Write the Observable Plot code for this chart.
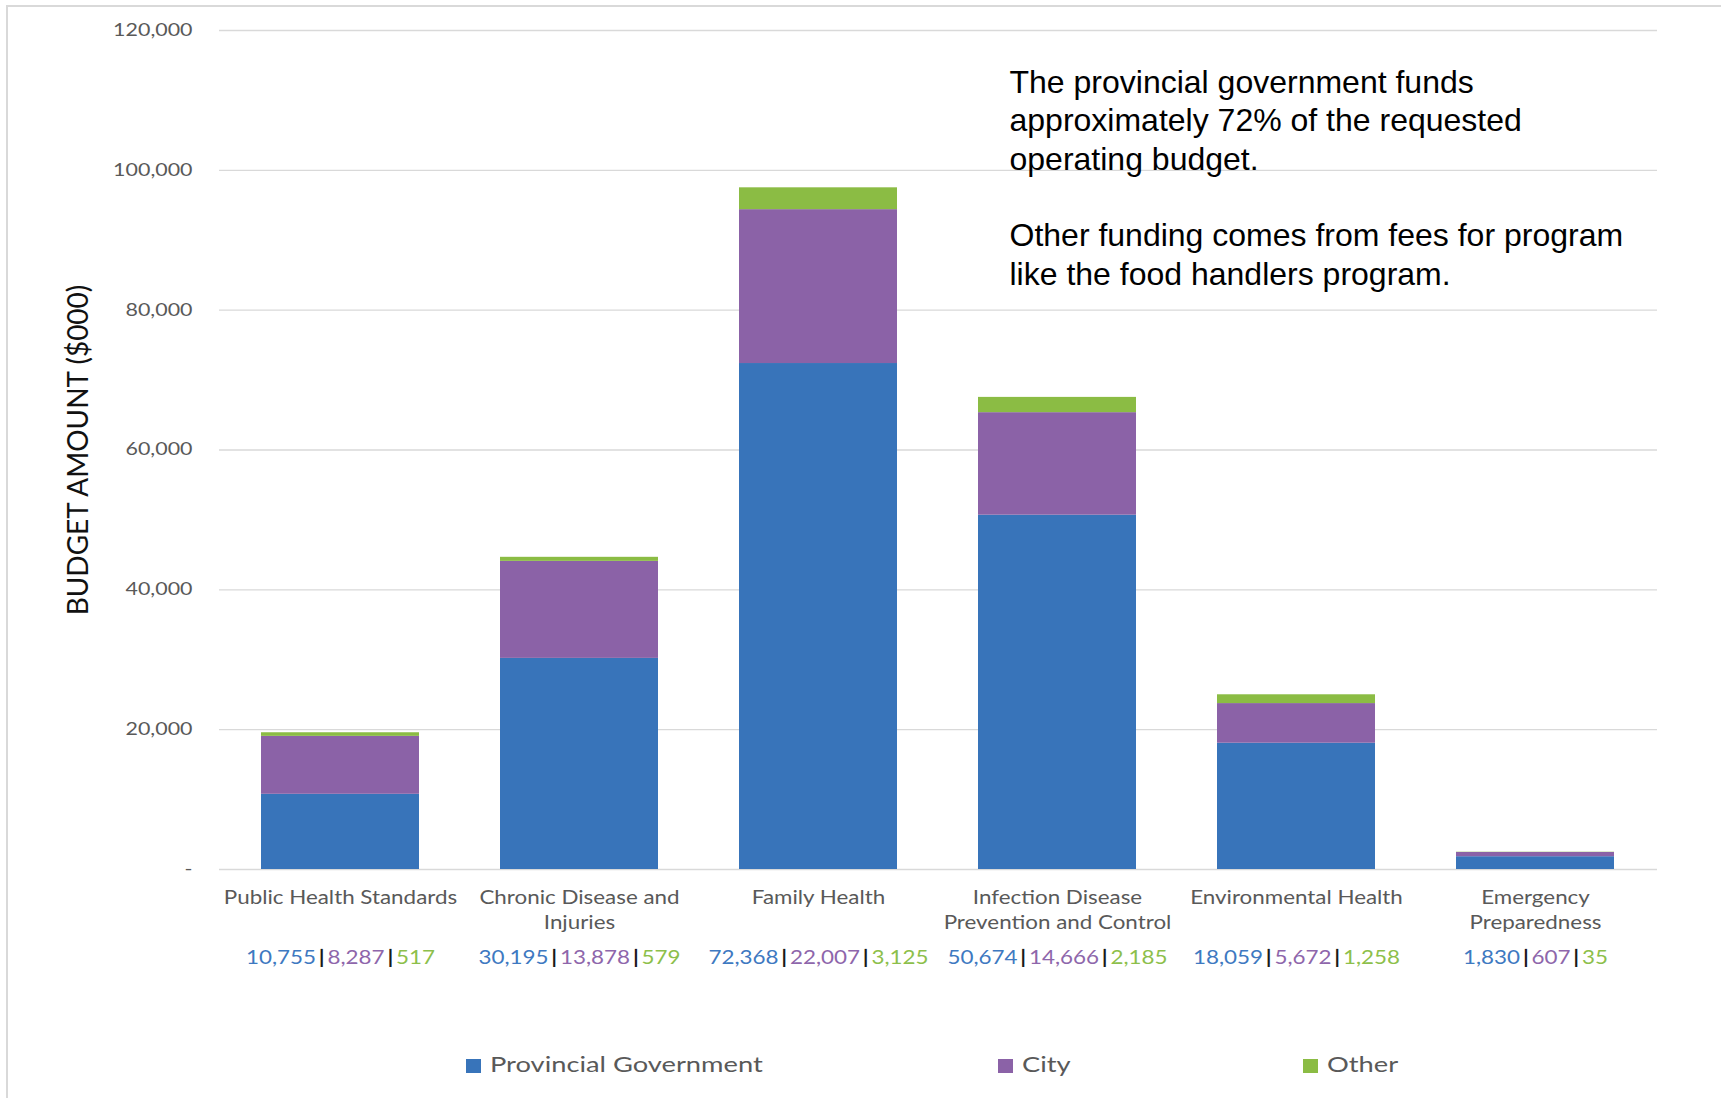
<!DOCTYPE html>
<html>
<head>
<meta charset="utf-8">
<script src="https://cdn.jsdelivr.net/npm/d3@7"></script>
<script src="https://cdn.jsdelivr.net/npm/@observablehq/plot@0.6"></script>
<style>
  html, body { margin: 0; padding: 0; background: #fff; }
  #wrap { position: relative; width: 1721px; height: 1098px; overflow: hidden; background: #fff; }
  #frame { position: absolute; left: 6px; top: 5px; right: -4px; bottom: -4px; border-left: 2px solid #d9d9d9; border-top: 2px solid #d9d9d9; pointer-events: none; }
  #chart { position: absolute; left: 0; top: 0; }
  #legend { position: absolute; left: 0; top: 1035px; width: 1721px; height: 63px; font-family: Lato, sans-serif; }
  .item { position: absolute; top: 0; height: 63px; }
  .sw { position: absolute; top: 24px; width: 15px; height: 14px; }
  .lab { position: absolute; left: 24px; top: 14px; font-size: 22px; line-height: 30px; color: #595959; white-space: nowrap; transform: scaleX(1.24); transform-origin: left center; }
</style>
</head>
<body>
<div id="wrap">
  <div id="chart"></div>
  <div id="legend"></div>
  <div id="frame"></div>
</div>
<script>
// ---- data ----
const categories = ["Public Health Standards", "Chronic Disease and Injuries", "Family Health", "Infection Disease Prevention and Control", "Environmental Health", "Emergency Preparedness"];
const categoryLabels = ["Public Health Standards", "Chronic Disease and\nInjuries", "Family Health", "Infection Disease\nPrevention and Control", "Environmental Health", "Emergency\nPreparedness"];
const sources = ["Provincial Government", "City", "Other"];
const provincial = [10755, 30195, 72368, 50674, 18059, 1830];
const city = [8287, 13878, 22007, 14666, 5672, 607];
const other = [517, 579, 3125, 2185, 1258, 35];
const yTicks = [0, 20000, 40000, 60000, 80000, 100000, 120000];
const yTickLabels = ["-", "20,000", "40,000", "60,000", "80,000", "100,000", "120,000"];
const yTitle = "BUDGET AMOUNT ($000)";
const annotation = "The provincial government funds\napproximately 72% of the requested\noperating budget.\n\nOther funding comes from fees for program\nlike the food handlers program.";

// ---- styles ----
const barColors = ["#3874BA", "#8B62A7", "#8BBC44"];
const labelColors = ["#3E79C1", "#8E66AB", "#8DBF4B"];

const seriesValues = [provincial, city, other];
const data = categories.flatMap((c, i) => sources.map((s, j) => ({category: c, source: s, value: seriesValues[j][i]})));
const fmt = d3.format(",");

const chart = Plot.plot({
  width: 1721,
  height: 1035,
  marginTop: 30,
  marginBottom: 166,
  marginLeft: 219,
  marginRight: 64,
  style: {fontFamily: "Lato, sans-serif", background: "transparent", overflow: "visible"},
  x: {domain: categories, paddingInner: 0.337, paddingOuter: 0.168, axis: null},
  y: {domain: [0, 120000], axis: null},
  color: {domain: sources, range: barColors},
  marks: [
    Plot.ruleY(yTicks, {stroke: "#d9d9d9", strokeWidth: 1.4}),
    Plot.barY(data, {x: "category", y: "value", fill: "source", order: sources}),
    Plot.axisY({ticks: yTicks, tickFormat: d => yTickLabels[yTicks.indexOf(d)], tickSize: 0, tickPadding: 27, fontSize: 17, color: "#595959", label: null, className: "yticks"}),
    Plot.text(categories, {x: d => d, text: (d, i) => categoryLabels[i], frameAnchor: "bottom", lineAnchor: "top", dy: 16, fontSize: 18.5, lineHeight: 1.37, fill: "#595959", className: "cats"}),
    Plot.text(categories, {x: d => d, text: (d, i) => [fmt(provincial[i]), fmt(city[i]), fmt(other[i])].join("|"), frameAnchor: "bottom", lineAnchor: "top", dy: 81, fontSize: 19.5, fill: "#000", className: "vals"}),
    Plot.text([yTitle], {frameAnchor: "left", textAnchor: "middle", lineAnchor: "middle", rotate: -90, dx: -140, fontSize: 28, fill: "#111", className: "ytitle"}),
    Plot.text([annotation], {frameAnchor: "top-left", textAnchor: "start", lineAnchor: "top", dx: 790, dy: 35, fontSize: 32, lineHeight: 1.2, fontFamily: "'Liberation Sans', Arial, sans-serif", fill: "#000", className: "annot"})
  ]
});

// colour the value labels
chart.querySelectorAll(".vals text").forEach(t => {
  const parts = t.textContent.split("|");
  t.textContent = "";
  parts.forEach((p, j) => {
    if (j > 0) {
      const sep = document.createElementNS("http://www.w3.org/2000/svg", "tspan");
      sep.textContent = "\u2009|\u2009";
      sep.setAttribute("fill", "#1a1a1a");
      sep.setAttribute("font-weight", "bold");
      t.appendChild(sep);
    }
    const ts = document.createElementNS("http://www.w3.org/2000/svg", "tspan");
    ts.textContent = p;
    ts.setAttribute("fill", labelColors[j]);
    t.appendChild(ts);
  });
});

// the reference chart picture is horizontally stretched: widen its glyphs
function widen(selector, k) {
  chart.querySelectorAll(selector).forEach(t => {
    const tr = t.getAttribute("transform");
    if (tr) {
      t.setAttribute("transform", tr + ` scale(${k},1)`);
    } else {
      const x = +t.getAttribute("x") || 0, y = +t.getAttribute("y") || 0;
      t.setAttribute("transform", `translate(${x},${y}) scale(${k},1) translate(${-x},${-y})`);
    }
  });
}
widen(".yticks text", 1.26);
widen(".cats text", 1.21);
widen(".vals text", 1.15);

document.getElementById("chart").appendChild(chart);

// legend
const legendLeft = [466, 998, 1303];
const legend = document.getElementById("legend");
sources.forEach((s, i) => {
  const item = document.createElement("div");
  item.className = "item";
  item.style.left = legendLeft[i] + "px";
  item.innerHTML = `<div class="sw" style="background:${barColors[i]}"></div><div class="lab">${s}</div>`;
  legend.appendChild(item);
});
</script>
</body>
</html>
